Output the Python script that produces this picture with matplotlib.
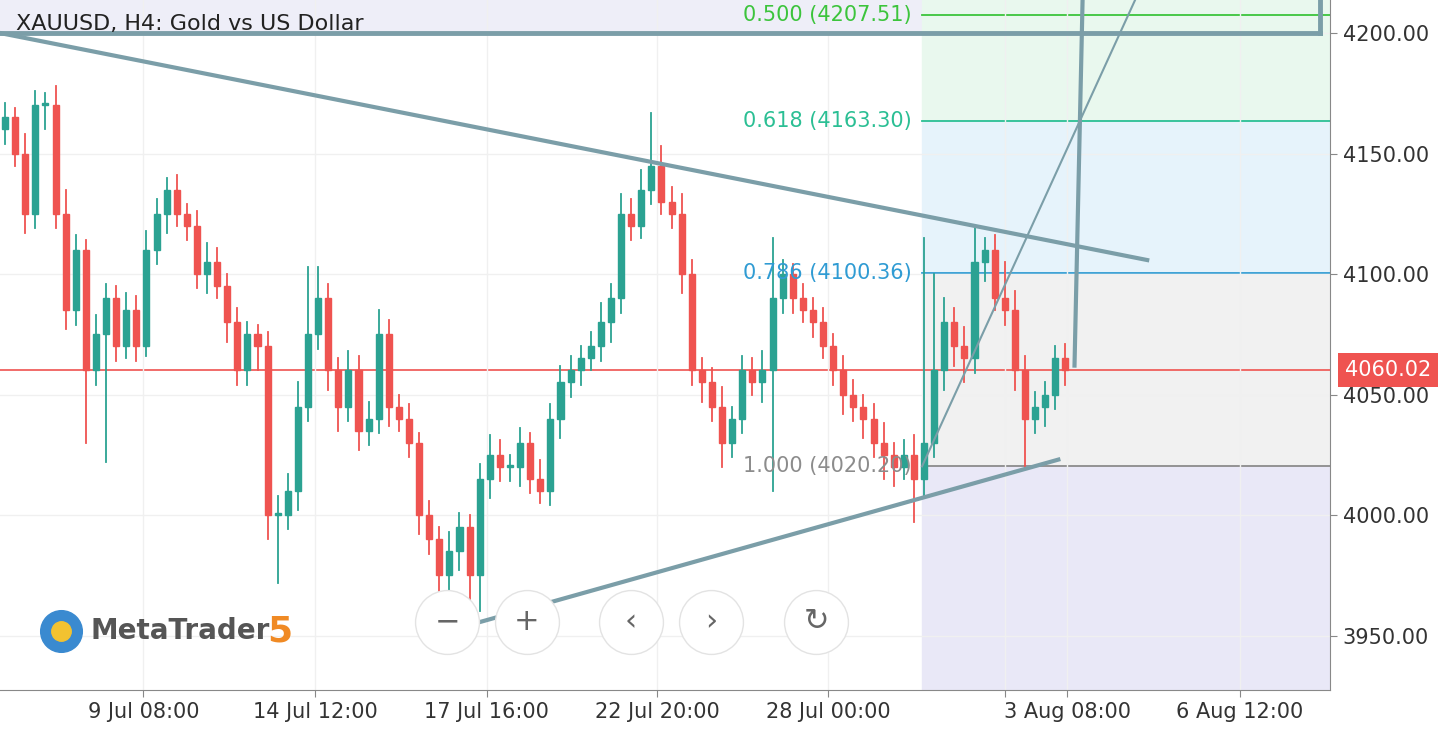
import matplotlib
matplotlib.use("Agg")
import matplotlib.pyplot as plt
from matplotlib.patches import Rectangle

closes = [4165,4150,4125,4170,4170,4125,4085,4110,4060,4075,
          4090,4070,4085,4070,4110,4125,4135,4125,4120,4100,
          4105,4095,4080,4060,4075,4070,4000,4000,4010,4045,
          4075,4090,4060,4045,4060,4035,4040,4075,4045,4040,
          4030,4000,3990,3975,3985,3995,3975,4015,4025,4020,
          4020,4030,4015,4010,4040,4055,4060,4065,4070,4080,
          4090,4125,4120,4135,4145,4130,4125,4100,4060,4055,
          4045,4030,4040,4060,4055,4060,4090,4100,4090,4085,
          4080,4070,4060,4050,4045,4040,4030,4025,4020,4025,
          4015,4030,4060,4080,4070,4065,4105,4110,4090,4085,
          4060,4040,4045,4050,4065,4060]
first_open = 4160
up_wick = [6,4,8,6,5,8,10,6,4,8,
           6,5,7,6,8,6,5,6,4,6,
           8,6,5,6,5,4,6,8,7,10,
           28,13,6,5,8,6,7,10,6,5,
           6,4,6,5,8,6,5,6,8,6,
           5,6,4,8,6,7,6,5,6,8,
           6,8,6,8,22,8,6,8,6,5,
           6,8,5,6,5,8,25,6,4,6,
           5,6,5,6,6,5,6,8,5,6,
           8,85,40,10,6,8,15,5,6,15,
           8,6,6,5,5,6]
dn_wick = [6,5,8,6,10,6,8,6,30,6,
           53,6,5,6,4,6,8,5,6,6,
           8,5,8,6,6,10,10,28,6,8,
           6,6,8,10,6,8,6,6,8,5,
           6,8,6,10,6,8,15,15,8,6,
           6,8,6,5,6,8,6,6,5,6,
           8,6,6,5,6,5,6,8,6,8,
           6,10,6,6,5,8,50,6,6,5,
           6,5,6,8,6,8,6,10,8,5,
           18,8,6,8,8,10,6,8,5,6,
           8,20,6,8,6,6]
xtick_pos = [13.7, 30.7, 47.7, 64.6, 81.5, 99.0, 105.2, 122.3]
xtick_lab = ["9 Jul 08:00", "14 Jul 12:00", "17 Jul 16:00", "22 Jul 20:00",
             "28 Jul 00:00", "", "3 Aug 08:00", "6 Aug 12:00"]
yticks = [3950, 4000, 4050, 4100, 4150, 4200]
fib_levels = [4207.51, 4163.30, 4100.36, 4020.20]
fib_names = ["0.500", "0.618", "0.786", "1.000"]
fib_colors = ["#3cc43c", "#2bbf94", "#2f9bd3", "#8c8c8c"]
zone_fills = ["#e9f8ee", "#e9f8ee", "#e6f3fb", "#f1f1f1", "#e9e8f7"]
last_price = 4060.02

UP, DN = "#2ba292", "#ef5350"
XMIN, XMAX = -0.5, 131.2
YMIN, YMAX = 3927.4, 4213.7

fig = plt.figure(figsize=(14.42, 7.40), dpi=100)
ax = fig.add_axes([0, 50/740, 1330/1442, 690/740])
ax.set_xlim(XMIN, XMAX); ax.set_ylim(YMIN, YMAX)
ax.grid(True, color="#f0f0f0", lw=1)
ax.set_xticks(xtick_pos); ax.set_xticklabels(xtick_lab, fontsize=15, color="#333")
ax.yaxis.tick_right(); ax.set_yticks(yticks)
ax.set_yticklabels([f"{v:.2f}" for v in yticks], fontsize=15, color="#333")
ax.tick_params(length=5, color="#888", pad=4)
for s in ["top", "left"]:
    ax.spines[s].set_visible(False)
ax.spines["bottom"].set_color("#888"); ax.spines["right"].set_color("#888")

ax.add_patch(Rectangle((XMIN, 4200), XMAX - XMIN, YMAX - 4200, color="#eeeef8", zorder=0))
fx = 90.8
bounds = [YMAX] + fib_levels + [YMIN]
for i in range(len(bounds) - 1):
    ax.add_patch(Rectangle((fx, bounds[i+1]), XMAX - fx, bounds[i] - bounds[i+1],
                           color=zone_fills[i], zorder=0.5))
for lv, nm, col in zip(fib_levels, fib_names, fib_colors):
    ax.plot([fx, XMAX], [lv, lv], color=col, lw=1.3, zorder=1)
    ax.text(fx - 1, lv, f"{nm} ({lv:.2f})", color=col, fontsize=15, ha="right", va="center", zorder=5)

ax.axhline(last_price, color="#ef5350", lw=1.2, zorder=1)

opens = [first_open] + closes[:-1]
for i, (o, c) in enumerate(zip(opens, closes)):
    col = UP if c >= o else DN
    hi = max(o, c) + up_wick[i]; lo = min(o, c) - dn_wick[i]
    ax.plot([i, i], [lo, hi], color=col, lw=1.3, zorder=2)
    ax.add_patch(Rectangle((i - 0.3, min(o, c)), 0.6, max(abs(c - o), 0.8), color=col, zorder=3))

tl = "#7b9ea8"
ax.plot([XMIN, 113.1], [4200, 4105.8], color=tl, lw=3, zorder=4)
ax.plot([46.0, 104.3], [3954.4, 4023], color=tl, lw=3, zorder=4)
ax.plot([90.8, 111.9], [4020.2, 4213.7], color=tl, lw=1.5, zorder=4)
ax.plot([105.9, 106.7], [4062, 4213.7], color=tl, lw=3, zorder=4)
ax.plot([XMIN, 130.2], [4200, 4200], color=tl, lw=3.5, zorder=4)
ax.plot([130.2, 130.2], [4200, YMAX], color=tl, lw=3.5, zorder=4)

ax.text(0.012, 0.965, "XAUUSD, H4: Gold vs US Dollar", transform=ax.transAxes,
        fontsize=16, color="#222", va="center", zorder=6)
ax.plot([0.046], [0.085], "o", ms=30, color="#3a8ad0", transform=ax.transAxes, zorder=6)
ax.plot([0.046], [0.085], "o", ms=14, color="#f2c230", transform=ax.transAxes, zorder=6)
ax.text(0.068, 0.085, "MetaTrader", transform=ax.transAxes, fontsize=20,
        color="#555", fontweight="bold", va="center", zorder=6)
ax.text(0.201, 0.085, "5", transform=ax.transAxes, fontsize=26,
        color="#f08a24", fontweight="bold", va="center", zorder=6)

for px, sym in [(447, "−"), (527, "+"), (631, "‹"), (711, "›"), (816, "↻")]:
    xa = px / 1330
    ya = (690 - 622) / 690
    ax.plot([xa], [ya], "o", ms=46, mfc="white", mec="#e3e3e3", mew=1,
            transform=ax.transAxes, zorder=7)
    ax.text(xa, ya, sym, transform=ax.transAxes, fontsize=22, color="#666",
            ha="center", va="center", zorder=8)

fig.text(1388/1442, 1 - 370/740, f"{last_price:.2f}", fontsize=15, color="white",
         ha="center", va="center", bbox=dict(boxstyle="square,pad=0.35", fc="#ef5350", ec="none"))
fig.savefig("out.png", dpi=100)
